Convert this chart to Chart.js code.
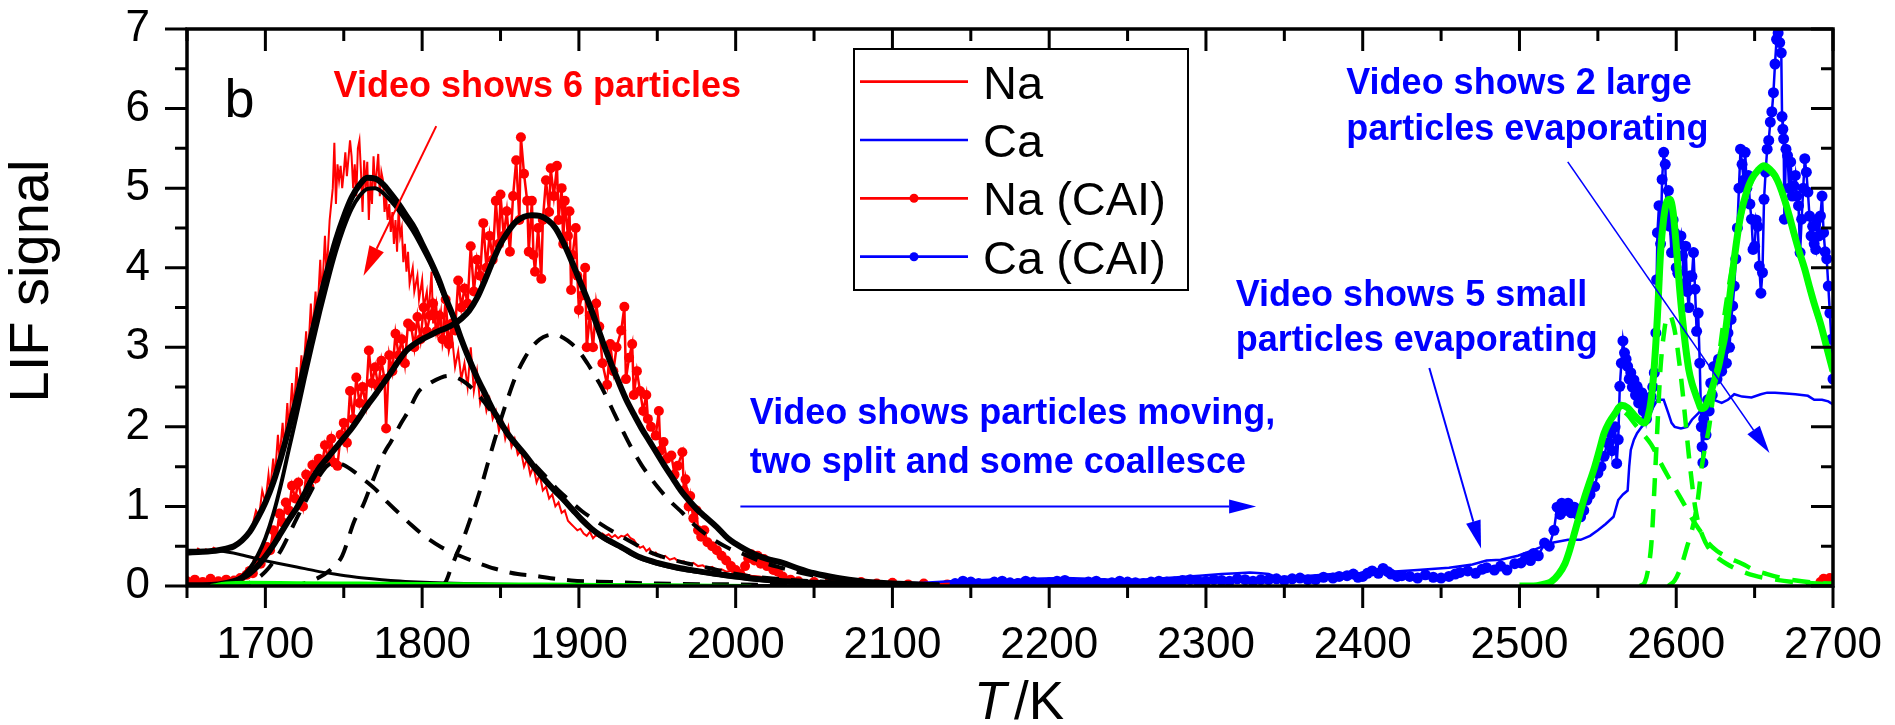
<!DOCTYPE html>
<html>
<head>
<meta charset="utf-8">
<title>LIF signal vs temperature</title>
<script src="https://cdn.jsdelivr.net/npm/chart.js@4.4.1/dist/chart.umd.min.js"></script>
<style>
  html, body { margin: 0; padding: 0; background: #ffffff; }
  #chart { display: block; }
</style>
</head>
<body>
<canvas id="chart" width="1895" height="725"></canvas>
<script>
// ---- axis ticks ----
const xTicks = [1700, 1800, 1900, 2000, 2100, 2200, 2300, 2400, 2500, 2600, 2700];
const yTicks = [0, 1, 2, 3, 4, 5, 6, 7];

// ---- measured signals [T / K, LIF] ----
const naSignal = [
  [1650,0.42],[1652,0.45],[1655,0.41],[1657,0.47],[1660,0.43],[1662,0.46],[1665,0.44],[1667,0.48],[1670,0.45],[1672,0.47],
  [1675,0.49],[1677,0.46],[1680,0.5],[1682,0.55],[1685,0.58],[1687,0.62],[1690,0.7],[1692,0.78],[1694,0.95],[1696,0.88],
  [1698,1.2],[1700,1.05],[1702,1.4],[1703,1.2],[1705,1.6],[1706,1.35],[1708,1.9],[1709,1.6],[1711,2.05],[1712,1.7],
  [1714,2.3],[1715,1.95],[1717,2.55],[1718,2.2],[1720,2.75],[1721,2.3],[1723,2.9],[1724,2.6],[1726,3.2],[1727,2.8],
  [1729,3.55],[1730,3.15],[1732,3.7],[1733,3.35],[1735,4.1],[1736,3.6],[1738,4.4],[1739,3.9],[1741,4.6],[1743,5.0],
  [1744,5.57],[1745,4.8],[1746,5.3],[1747,5.1],[1748,5.28],[1749,5.0],[1750,5.2],[1751,5.45],[1752,5.15],[1754,5.6],
  [1755,5.4],[1756,5.0],[1757,5.3],[1758,4.9],[1759,5.5],[1760,5.6],[1761,5.2],[1762,4.7],[1763,5.35],[1764,5.0],
  [1765,5.33],[1766,4.6],[1767,5.1],[1768,4.8],[1769,5.4],[1770,5.0],[1771,5.2],[1772,5.43],[1773,4.9],[1774,5.2],
  [1775,5.1],[1776,4.7],[1777,4.9],[1778,4.6],[1779,4.8],[1780,4.45],[1781,4.7],[1782,4.3],[1783,4.6],[1784,4.2],
  [1785,4.74],[1786,4.4],[1787,4.5],[1788,4.07],[1789,4.3],[1790,3.95],[1791,4.2],[1792,3.8],[1794,4.0],[1795,3.7],
  [1797,3.9],[1798,3.6],[1800,3.85],[1801,3.5],[1803,3.7],[1804,3.4],[1806,3.95],[1807,3.3],[1809,3.54],[1810,3.2],
  [1812,3.45],[1813,3.05],[1815,3.3],[1817,2.95],[1819,3.15],[1821,2.75],[1823,2.95],[1825,2.6],[1827,2.8],[1829,2.5],
  [1831,3.0],[1833,2.45],[1835,2.7],[1837,2.3],[1839,2.45],[1841,2.2],[1843,2.35],[1845,2.1],[1847,2.2],[1849,1.95],
  [1851,2.1],[1853,1.85],[1855,2.0],[1857,1.75],[1859,1.85],[1861,1.65],[1863,1.7],[1865,1.5],[1867,1.6],[1869,1.4],
  [1871,1.5],[1873,1.3],[1875,1.4],[1877,1.2],[1879,1.25],[1881,1.1],[1883,1.15],[1885,1.0],[1887,1.05],[1889,0.92],
  [1891,0.95],[1893,0.82],[1895,0.78],[1897,0.74],[1899,0.7],[1901,0.72],[1903,0.66],[1905,0.63],[1907,0.68],[1909,0.6],
  [1911,0.64],[1913,0.62],[1915,0.66],[1917,0.63],[1919,0.65],[1921,0.61],[1923,0.64],[1925,0.6],[1927,0.63],[1929,0.62],
  [1931,0.65],[1933,0.6],[1935,0.58],[1937,0.52],[1939,0.48],[1941,0.5],[1943,0.44],[1945,0.47],[1947,0.4],[1949,0.42],
  [1952,0.36],[1955,0.38],[1958,0.33],[1961,0.35],[1964,0.3],[1967,0.31],[1970,0.27],[1973,0.29],[1976,0.25],[1979,0.26],
  [1982,0.22],[1985,0.24],[1988,0.2],[1991,0.21],[1994,0.18],[1997,0.19],[2000,0.16],[2005,0.15],[2010,0.13],[2015,0.12],
  [2020,0.1],[2025,0.1],[2030,0.08],[2040,0.07],[2050,0.06],[2060,0.05],[2070,0.05],[2080,0.04],[2100,0.04],[2120,0.03],
  [2140,0.05],[2150,0.02],[2160,0.06],[2170,0.02],[2180,0.05],[2190,0.03],[2200,0.06],[2210,0.02],[2220,0.05],[2230,0.02],
  [2240,0.03],[2260,0.04],[2270,0.06],[2280,0.02],[2290,0.05],[2300,0.03]
];

const caSignal = [
  [2080,0.02],[2100,0.03],[2120,0.04],[2137,0.06],[2150,0.07],[2162,0.08],[2175,0.07],[2190,0.09],[2210,0.1],[2225,0.09],
  [2240,0.08],[2259,0.08],[2275,0.1],[2296,0.13],[2310,0.15],[2320,0.16],[2328,0.17],[2335,0.16],[2340,0.15],[2345,0.11],
  [2360,0.12],[2381,0.15],[2400,0.16],[2418,0.18],[2435,0.2],[2455,0.23],[2470,0.27],[2479,0.32],[2488,0.33],[2499,0.38],
  [2510,0.46],[2520,0.54],[2531,0.58],[2539,0.58],[2545,0.63],[2550,0.7],[2555,0.78],[2560,0.87],[2563,1.08],[2566,1.15],
  [2569,1.2],[2570,1.5],[2571,1.71],[2573,1.84],[2575,1.92],[2578,2.0],[2580,2.05],[2584,2.2],[2588,2.34],[2592,2.34],
  [2595,2.17],[2597,2.05],[2599,2.0],[2603,1.98],[2607,2.0],[2610,2.09],[2614,2.17],[2618,2.26],[2624,2.34],[2629,2.3],
  [2633,2.34],[2637,2.41],[2642,2.38],[2648,2.37],[2654,2.41],[2658,2.43],[2663,2.43],[2670,2.42],[2676,2.41],[2684,2.39],
  [2688,2.34],[2693,2.34],[2697,2.32],[2700,2.28]
];

const naCaiSignal = [
  [1650,0.06],[1655,0.08],[1660,0.05],[1665,0.09],[1670,0.06],[1675,0.08],[1680,0.07],[1684,0.1],[1688,0.14],[1690,0.19],
  [1692,0.16],[1695,0.32],[1697,0.28],[1699,0.4],[1701,0.49],[1703,0.45],[1705,0.7],[1707,0.62],[1709,0.91],[1711,0.8],
  [1713,1.05],[1715,0.95],[1717,1.26],[1719,1.1],[1721,1.3],[1724,1.0],[1726,1.4],[1728,1.25],[1730,1.52],[1732,1.35],
  [1734,1.6],[1736,1.5],[1738,1.77],[1740,1.6],[1742,1.85],[1744,1.55],[1746,1.51],[1748,1.9],[1750,2.05],[1752,1.8],
  [1754,2.45],[1756,2.1],[1758,2.62],[1760,2.3],[1762,2.5],[1764,2.28],[1766,2.96],[1768,2.55],[1770,2.75],[1772,2.5],
  [1774,2.83],[1776,2.6],[1777,1.98],[1779,2.9],[1781,2.7],[1783,3.17],[1785,2.9],[1787,3.1],[1789,2.8],[1791,3.3],
  [1793,3.26],[1795,3.0],[1797,3.38],[1799,3.1],[1801,3.5],[1803,3.2],[1805,3.4],[1807,3.55],[1809,3.2],[1811,3.4],
  [1813,3.1],[1815,3.6],[1817,3.04],[1819,3.3],[1821,3.21],[1823,3.84],[1825,3.5],[1827,3.74],[1829,3.55],[1831,4.27],
  [1833,3.7],[1835,4.1],[1837,3.9],[1839,4.56],[1841,4.0],[1843,4.4],[1845,4.1],[1847,4.84],[1849,4.3],[1850,4.92],
  [1852,4.4],[1854,4.71],[1856,4.2],[1858,4.9],[1860,5.35],[1862,4.6],[1863,5.64],[1865,5.18],[1867,4.84],[1868,4.2],
  [1870,4.84],[1871,4.16],[1872,3.95],[1874,4.5],[1876,3.86],[1877,4.6],[1879,5.1],[1881,4.7],[1882,5.25],[1884,4.9],
  [1886,5.28],[1887,4.6],[1889,5.0],[1890,4.3],[1891,4.84],[1893,4.4],[1894,4.71],[1895,3.72],[1896,4.16],[1898,4.5],
  [1899,3.9],[1900,3.47],[1902,3.65],[1904,4.0],[1905,3.0],[1907,3.4],[1909,3.0],[1911,3.55],[1913,3.26],[1915,2.8],
  [1918,2.53],[1920,3.04],[1922,2.7],[1924,3.0],[1927,3.21],[1929,3.51],[1930,2.6],[1932,2.87],[1934,3.04],[1935,2.4],
  [1937,2.7],[1939,2.45],[1941,2.2],[1943,2.4],[1944,2.1],[1946,2.0],[1949,1.89],[1951,2.2],[1952,1.7],[1954,1.81],
  [1956,1.6],[1959,1.64],[1961,1.4],[1963,1.51],[1966,1.68],[1967,1.2],[1968,1.34],[1970,1.0],[1971,1.13],[1973,0.85],
  [1975,0.95],[1976,0.7],[1978,0.62],[1980,0.7],[1982,0.55],[1985,0.5],[1988,0.45],[1991,0.38],[1994,0.32],[1997,0.25],
  [2000,0.2],[2003,0.15],[2006,0.25],[2008,0.35],[2010,0.4],[2012,0.32],[2014,0.38],[2016,0.28],[2018,0.34],[2020,0.25],
  [2022,0.3],[2024,0.2],[2027,0.18],[2030,0.12],[2035,0.08],[2040,0.06],[2050,0.05],[2060,0.06],[2070,0.04],[2080,0.05],
  [2090,0.03],[2100,0.04],[2110,0.02],[2120,0.03],[2135,0.02],[2150,0.03],[2165,0.02],[2180,0.03],[2200,0.02],
  [2400,null],
  [2692,0.05],[2694,0.09],[2696,0.07],[2698,0.1],[2700,0.08]
];

const caCaiSignal = [
  [2140,0.03],[2145,0.06],[2150,0.05],[2155,0.03],[2160,0.02],[2165,0.05],[2170,0.06],[2175,0.04],[2180,0.03],[2185,0.06],
  [2190,0.05],[2195,0.03],[2200,0.04],[2205,0.06],[2210,0.07],[2215,0.04],[2220,0.03],[2225,0.05],[2230,0.06],[2235,0.03],
  [2240,0.04],[2245,0.06],[2250,0.05],[2255,0.04],[2260,0.03],[2265,0.05],[2270,0.06],[2275,0.05],[2280,0.05],[2285,0.07],
  [2290,0.08],[2295,0.06],[2300,0.06],[2305,0.08],[2310,0.07],[2315,0.06],[2320,0.09],[2325,0.08],[2330,0.06],[2335,0.08],
  [2340,0.08],[2345,0.09],[2350,0.07],[2355,0.09],[2360,0.1],[2365,0.08],[2370,0.08],[2375,0.11],[2381,0.1],[2385,0.12],
  [2390,0.13],[2394,0.15],[2397,0.11],[2400,0.12],[2403,0.16],[2406,0.19],[2410,0.16],[2413,0.22],[2416,0.18],[2418,0.15],
  [2422,0.12],[2425,0.13],[2430,0.12],[2435,0.1],[2440,0.14],[2445,0.11],[2450,0.1],[2455,0.12],[2459,0.15],[2462,0.17],
  [2467,0.19],[2472,0.16],[2476,0.21],[2479,0.23],[2484,0.2],[2488,0.25],[2492,0.2],[2497,0.28],[2501,0.29],[2504,0.36],
  [2507,0.32],[2509,0.41],[2512,0.38],[2516,0.54],[2519,0.5],[2522,0.7],[2524,0.99],[2526,0.9],[2527,1.04],[2529,0.95],
  [2531,1.04],[2533,0.92],[2535,0.99],[2537,0.9],[2539,0.87],[2541,0.95],[2543,1.08],[2545,1.15],[2548,1.25],[2550,1.42],
  [2552,1.5],[2554,1.63],[2556,1.8],[2558,1.92],[2559,1.7],[2561,2.0],[2562,1.54],[2563,1.84],[2564,2.51],[2565,2.8],
  [2566,3.08],[2567,2.93],[2568,2.85],[2569,2.76],[2570,2.6],[2571,2.68],[2572,2.5],[2573,2.59],[2574,2.4],[2575,2.51],
  [2576,2.3],[2578,2.43],[2579,2.2],[2580,2.34],[2581,2.1],[2582,2.22],[2583,2.3],[2584,2.38],[2585,2.5],[2586,2.68],
  [2587,3.18],[2587.5,3.85],[2588,4.44],[2589,4.78],[2590,4.3],[2591,5.11],[2592,5.45],[2593,5.3],[2594,4.6],[2595,4.97],
  [2596,4.52],[2597,4.19],[2598,4.6],[2599,4.44],[2600,4.0],[2601,3.93],[2602,4.3],[2603,4.4],[2604,4.15],[2605,3.8],
  [2606,4.27],[2607,3.7],[2608,3.5],[2609,3.9],[2610,3.89],[2611,4.19],[2612,3.73],[2613,3.2],[2614,3.43],[2615,2.8],
  [2616,2.0],[2616.5,1.75],[2617,1.55],[2617.5,2.1],[2618,2.22],[2619,1.9],[2620,2.34],[2621,2.2],[2622,2.55],[2623,2.4],
  [2624,2.76],[2626,2.6],[2627,2.85],[2629,2.7],[2631,2.97],[2632,2.8],[2633,3.18],[2634,3.0],[2635,3.35],[2636,3.52],
  [2637,3.77],[2638,4.11],[2639,4.5],[2640,5.0],[2641,5.49],[2642,5.3],[2643,5.1],[2644,5.45],[2645,5.0],[2646,5.16],
  [2647,4.8],[2648,4.61],[2649,4.23],[2650,4.27],[2651,4.6],[2652,4.52],[2653,4.02],[2654,3.68],[2655,3.94],[2656,4.86],
  [2657,5.2],[2658,5.49],[2659,5.6],[2660,5.83],[2661,5.96],[2662,6.2],[2663,6.56],[2664,6.87],[2665,6.95],[2666,6.83],
  [2667,6.7],[2667.5,5.9],[2668,5.74],[2668.5,5.62],[2669,4.61],[2670,5.49],[2671,5.41],[2672,5.0],[2673,5.33],[2674,4.9],
  [2675,5.03],[2676,5.16],[2677,4.9],[2678,4.78],[2679,4.19],[2680,4.61],[2681,5.0],[2682,5.37],[2683,5.2],[2684,4.95],
  [2685,4.65],[2686,4.4],[2687,4.52],[2688,4.3],[2689,4.23],[2690,4.61],[2691,4.4],[2692,4.65],[2693,4.9],[2694,4.44],
  [2695,4.2],[2696,4.11],[2697,3.77],[2698,3.43],[2699,3.1],[2700,2.6]
];

// ---- Na fits (black) ----
const naFit = [
  [1650,0.42],[1660,0.43],[1670,0.45],[1675,0.47],[1680,0.5],[1685,0.57],[1690,0.68],[1695,0.85],[1700,1.05],[1705,1.3],
  [1710,1.62],[1715,1.98],[1720,2.36],[1725,2.78],[1730,3.2],[1735,3.62],[1740,4.0],[1745,4.35],[1750,4.64],[1755,4.88],
  [1760,5.04],[1765,5.13],[1770,5.12],[1775,5.05],[1780,4.93],[1785,4.8],[1790,4.65],[1795,4.5],[1800,4.3],[1805,4.1],
  [1810,3.88],[1815,3.62],[1820,3.38],[1825,3.1],[1830,2.85],[1835,2.62],[1840,2.42],[1845,2.22],[1850,2.06],[1855,1.9],
  [1860,1.78],[1866,1.64],[1872,1.48],[1878,1.34],[1884,1.21],[1890,1.09],[1896,0.96],[1902,0.83],[1908,0.72],[1915,0.62],
  [1921,0.55],[1927,0.49],[1933,0.42],[1939,0.36],[1950,0.29],[1963,0.23],[1975,0.19],[1988,0.15],[2000,0.12],[2012,0.09],
  [2030,0.06],[2050,0.04],[2080,0.02],[2100,0.01],[2130,0]
];
const naPeak = [
  [1665,0],[1675,0.03],[1680,0.06],[1685,0.12],[1690,0.22],[1695,0.38],[1700,0.6],[1705,0.9],[1710,1.28],[1715,1.72],
  [1720,2.15],[1725,2.6],[1730,3.03],[1735,3.45],[1740,3.84],[1745,4.2],[1750,4.5],[1755,4.74],[1760,4.9],[1765,4.99],
  [1770,5.0],[1775,4.94],[1780,4.84],[1785,4.72],[1790,4.58],[1795,4.43],[1800,4.25],[1805,4.06],[1810,3.84],[1815,3.6],
  [1820,3.36],[1825,3.09],[1830,2.84],[1835,2.61],[1840,2.41],[1845,2.21],[1850,2.05],[1855,1.89],[1860,1.77],[1866,1.63],
  [1872,1.47],[1878,1.33],[1884,1.2],[1890,1.08],[1896,0.95],[1902,0.82],[1908,0.71],[1915,0.61],[1921,0.54],[1927,0.48],
  [1933,0.41],[1939,0.35],[1950,0.28],[1963,0.22],[1975,0.18],[1988,0.14],[2000,0.11],[2012,0.08],[2030,0.05],[2050,0.03],
  [2080,0.01],[2100,0]
];
const naBaseline = [
  [1650,0.45],[1660,0.45],[1671,0.44],[1683,0.4],[1695,0.34],[1707,0.29],[1720,0.24],[1732,0.19],[1744,0.15],[1756,0.115],
  [1768,0.09],[1780,0.07],[1793,0.055],[1805,0.045],[1820,0.035],[1841,0.025],[1870,0.018],[1900,0.012],[1950,0.008],
  [2000,0.005],[2050,0]
];

// ---- Na (CAI) fit and its three components (black) ----
const naCaiFit = [
  [1650,0.01],[1660,0.01],[1670,0.02],[1680,0.06],[1685,0.1],[1690,0.16],[1695,0.25],[1700,0.37],[1705,0.51],[1710,0.67],
  [1715,0.83],[1720,0.98],[1725,1.16],[1730,1.35],[1735,1.5],[1740,1.62],[1745,1.74],[1750,1.86],[1755,1.98],[1760,2.12],
  [1765,2.27],[1770,2.4],[1775,2.54],[1780,2.68],[1785,2.83],[1790,2.96],[1795,3.04],[1800,3.1],[1805,3.15],[1810,3.2],
  [1815,3.24],[1820,3.29],[1825,3.36],[1830,3.46],[1835,3.62],[1840,3.84],[1845,4.08],[1850,4.3],[1855,4.46],[1860,4.58],
  [1865,4.64],[1870,4.66],[1875,4.65],[1880,4.6],[1885,4.5],[1890,4.32],[1895,4.1],[1900,3.86],[1905,3.62],[1910,3.36],
  [1915,3.08],[1920,2.82],[1925,2.58],[1930,2.35],[1935,2.16],[1940,1.98],[1945,1.82],[1950,1.66],[1955,1.5],[1960,1.35],
  [1965,1.2],[1970,1.08],[1975,0.97],[1980,0.88],[1988,0.74],[1995,0.6],[2000,0.53],[2006,0.46],[2012,0.4],[2020,0.34],
  [2030,0.29],[2040,0.22],[2050,0.16],[2065,0.1],[2080,0.06],[2100,0.03],[2130,0.01]
];
const naCaiPeak1 = [
  [1680,0],[1690,0.04],[1700,0.18],[1710,0.45],[1720,0.85],[1728,1.15],[1735,1.4],[1740,1.52],[1745,1.55],[1750,1.52],
  [1757,1.43],[1764,1.32],[1771,1.2],[1778,1.05],[1785,0.92],[1793,0.77],[1802,0.62],[1812,0.49],[1824,0.38],[1837,0.28],
  [1846,0.22],[1861,0.15],[1871,0.13],[1885,0.09],[1895,0.07],[1920,0.05],[1950,0.03],[2000,0.02],[2050,0.01],[2100,0]
];
const naCaiPeak2 = [
  [1715,0],[1722,0.02],[1732,0.085],[1743,0.23],[1749,0.38],[1757,0.83],[1762,1.0],[1768,1.3],[1776,1.68],[1780,1.81],
  [1787,2.06],[1791,2.19],[1798,2.45],[1805,2.55],[1812,2.62],[1817,2.64],[1822,2.62],[1828,2.55],[1835,2.42],[1842,2.25],
  [1850,2.03],[1858,1.82],[1865,1.65],[1872,1.52],[1880,1.35],[1887,1.2],[1895,1.06],[1902,0.94],[1910,0.83],[1922,0.68],
  [1932,0.57],[1946,0.42],[1958,0.34],[1970,0.28],[1982,0.23],[1995,0.17],[2007,0.13],[2020,0.1],[2040,0.07],[2060,0.05],
  [2080,0.03],[2100,0.02]
];
const naCaiPeak3 = [
  [1812,0],[1815,0.05],[1818,0.2],[1822,0.4],[1826,0.58],[1830,0.8],[1834,1.02],[1838,1.27],[1842,1.55],[1846,1.82],
  [1850,2.08],[1855,2.38],[1860,2.65],[1865,2.85],[1870,3.0],[1875,3.1],[1880,3.15],[1885,3.16],[1890,3.12],[1895,3.05],
  [1900,2.95],[1906,2.78],[1913,2.55],[1918,2.36],[1923,2.15],[1929,1.91],[1934,1.72],[1940,1.52],[1945,1.38],[1950,1.25],
  [1957,1.09],[1966,0.92],[1973,0.78],[1983,0.62],[1995,0.48],[2005,0.4],[2017,0.3],[2029,0.23],[2045,0.15],[2060,0.1],
  [2080,0.05],[2100,0.03],[2120,0.01]
];

// ---- Ca (CAI) fit and its three components (green) ----
const caCaiFit = [
  [2500,0],[2509,0],[2515,0.02],[2520,0.05],[2525,0.15],[2529,0.28],[2532,0.45],[2535,0.66],[2538,0.87],[2541,1.08],
  [2545,1.32],[2548,1.5],[2551,1.71],[2554,1.92],[2557,2.05],[2561,2.17],[2565,2.27],[2569,2.24],[2573,2.15],[2576,2.09],
  [2578,2.06],[2580,2.05],[2582,2.13],[2584,2.34],[2586,2.76],[2588,3.39],[2590,4.19],[2592,4.62],[2594,4.83],[2596,4.86],
  [2598,4.7],[2600,4.28],[2602,3.77],[2604,3.35],[2606,3.0],[2608,2.72],[2610,2.55],[2612,2.43],[2614,2.32],[2616,2.23],
  [2618,2.24],[2620,2.32],[2622,2.43],[2625,2.62],[2627,2.76],[2629,2.95],[2631,3.14],[2633,3.45],[2635,3.78],[2637,4.11],
  [2641,4.65],[2645,4.96],[2648,5.11],[2652,5.22],[2656,5.28],[2660,5.23],[2663,5.16],[2666,5.03],[2669,4.86],[2672,4.66],
  [2675,4.44],[2678,4.23],[2682,3.98],[2685,3.76],[2688,3.55],[2692,3.3],[2696,3.0],[2700,2.7]
];
const caCaiPeak1 = [
  [2505,0],[2515,0.02],[2520,0.05],[2525,0.15],[2529,0.28],[2532,0.45],[2535,0.66],[2538,0.87],[2541,1.08],[2545,1.32],
  [2548,1.5],[2551,1.71],[2554,1.92],[2557,2.05],[2561,2.15],[2565,2.2],[2569,2.15],[2573,2.05],[2578,1.93],[2584,1.78],
  [2590,1.55],[2595,1.37],[2600,1.2],[2605,1.03],[2610,0.85],[2615,0.7],[2620,0.55],[2626,0.44],[2633,0.36],[2642,0.28],
  [2650,0.2],[2658,0.15],[2670,0.09],[2680,0.06],[2690,0.04],[2700,0.03]
];
const caCaiPeak2 = [
  [2577,0],[2580,0.05],[2582,0.2],[2584,0.5],[2585,0.8],[2586,1.2],[2587,1.6],[2588,2.0],[2589,2.4],[2590,2.75],
  [2592,3.15],[2594,3.38],[2596,3.4],[2598,3.3],[2600,3.1],[2602,2.8],[2604,2.45],[2606,2.05],[2608,1.65],[2610,1.3],
  [2612,1.0],[2614,0.8],[2617,0.62],[2620,0.5],[2625,0.38],[2632,0.28],[2640,0.2],[2650,0.13],[2660,0.09],[2675,0.05],
  [2690,0.03],[2700,0.02]
];
const caCaiPeak3 = [
  [2595,0],[2599,0.07],[2603,0.24],[2607,0.5],[2610,0.7],[2612,0.87],[2614,1.12],[2616,1.46],[2618,1.7],[2621,2.0],
  [2624,2.45],[2627,2.85],[2630,3.3],[2633,3.7],[2636,4.05],[2640,4.5],[2644,4.85],[2648,5.08],[2652,5.2],[2656,5.25],
  [2660,5.2],[2663,5.13],[2666,5.0],[2669,4.83],[2672,4.63],[2675,4.41],[2678,4.2],[2682,3.95],[2685,3.73],[2688,3.52],
  [2692,3.27],[2696,2.97],[2700,2.67]
];
const caFitLowRange = [
  [1665,0],[1675,0.03],[1690,0.04],[1720,0.035],[1760,0.03],[1800,0.025],[1850,0.02],[1900,0.015],[1950,0.01],[2010,0]
];

// ---- styling ----
const FONT = '"Liberation Sans", Arial, Helvetica, sans-serif';
const RED = '#ff0000', BLUE = '#0000ff', GREEN = '#00ff00', BLACK = '#000000';

const toPoints = arr => arr.map(p => ({ x: p[0], y: p[1] }));

function lineSet(label, arr, color, width, extra) {
  return Object.assign({
    label: label,
    data: toPoints(arr),
    showLine: true,
    borderColor: color,
    backgroundColor: color,
    borderWidth: width,
    pointRadius: 0,
    pointHoverRadius: 0,
    tension: 0,
    spanGaps: false,
    fill: false
  }, extra || {});
}

const smooth = { tension: 0.4, cubicInterpolationMode: 'monotone' };
const blackDash = [17, 12];
const greenDash = [18, 13];

const datasets = [
  lineSet('Na', naSignal, RED, 2, { order: 20 }),
  lineSet('Ca', caSignal, BLUE, 2.5, { order: 18 }),
  lineSet('Na (CAI)', naCaiSignal, RED, 2.5, { order: 19, pointRadius: 5, pointBorderWidth: 0, pointBackgroundColor: RED }),
  lineSet('Ca (CAI)', caCaiSignal, BLUE, 2.5, { order: 17, pointRadius: 5.5, pointBorderWidth: 0, pointBackgroundColor: BLUE }),
  lineSet('Na (CAI) peak 1', naCaiPeak1, BLACK, 4, Object.assign({ order: 8, borderDash: blackDash }, smooth)),
  lineSet('Na (CAI) peak 2', naCaiPeak2, BLACK, 4, Object.assign({ order: 8, borderDash: blackDash }, smooth)),
  lineSet('Na (CAI) peak 3', naCaiPeak3, BLACK, 4, Object.assign({ order: 8, borderDash: blackDash }, smooth)),
  lineSet('Na baseline', naBaseline, BLACK, 3, Object.assign({ order: 7 }, smooth)),
  lineSet('Na peak', naPeak, BLACK, 4, Object.assign({ order: 6 }, smooth)),
  lineSet('Na fit', naFit, BLACK, 6, Object.assign({ order: 5 }, smooth)),
  lineSet('Na (CAI) fit', naCaiFit, BLACK, 6, Object.assign({ order: 5 }, smooth)),
  lineSet('Ca (CAI) peak 1', caCaiPeak1, GREEN, 4.5, Object.assign({ order: 3, borderDash: greenDash }, smooth)),
  lineSet('Ca (CAI) peak 2', caCaiPeak2, GREEN, 4.5, Object.assign({ order: 3, borderDash: greenDash }, smooth)),
  lineSet('Ca (CAI) peak 3', caCaiPeak3, GREEN, 4.5, Object.assign({ order: 3, borderDash: greenDash }, smooth)),
  lineSet('Ca (CAI) fit', caCaiFit, GREEN, 7, Object.assign({ order: 1 }, smooth)),
  lineSet('Ca (CAI) fit, low range', caFitLowRange, GREEN, 4, Object.assign({ order: 2 }, smooth))
];

// ---- frame with ticks on all four sides ----
const framePlugin = {
  id: 'frame',
  afterDatasetsDraw(chart) {
    const { ctx, chartArea: a, scales } = chart;
    const xs = scales.x, ys = scales.y;
    const major = 22, minor = 12;
    ctx.save();
    ctx.strokeStyle = BLACK;
    ctx.lineWidth = 3;
    ctx.lineCap = 'butt';
    ctx.beginPath();
    xTicks.forEach(v => {
      const px = xs.getPixelForValue(v);
      ctx.moveTo(px, a.bottom); ctx.lineTo(px, a.bottom + major);
      ctx.moveTo(px, a.top); ctx.lineTo(px, a.top + major);
      const pm = xs.getPixelForValue(v - 50);
      ctx.moveTo(pm, a.bottom); ctx.lineTo(pm, a.bottom + minor);
      ctx.moveTo(pm, a.top); ctx.lineTo(pm, a.top + minor);
    });
    yTicks.forEach((v, i) => {
      const py = ys.getPixelForValue(v);
      ctx.moveTo(a.left - major, py); ctx.lineTo(a.left, py);
      ctx.moveTo(a.right - major, py); ctx.lineTo(a.right, py);
      if (i > 0) {
        const pm = ys.getPixelForValue(v - 0.5);
        ctx.moveTo(a.left - minor, pm); ctx.lineTo(a.left, pm);
        ctx.moveTo(a.right - minor, pm); ctx.lineTo(a.right, pm);
      }
    });
    ctx.stroke();
    ctx.lineWidth = 3.5;
    ctx.strokeRect(a.left, a.top, a.right - a.left, a.bottom - a.top);
    ctx.restore();
  }
};

function drawArrow(ctx, x0, y0, x1, y1, color, lw, headLen, headHalf) {
  const ang = Math.atan2(y1 - y0, x1 - x0);
  const bx = x1 - headLen * Math.cos(ang), by = y1 - headLen * Math.sin(ang);
  ctx.strokeStyle = color;
  ctx.fillStyle = color;
  ctx.lineWidth = lw;
  ctx.beginPath();
  ctx.moveTo(x0, y0);
  ctx.lineTo(bx, by);
  ctx.stroke();
  ctx.beginPath();
  ctx.moveTo(x1, y1);
  ctx.lineTo(bx + headHalf * Math.sin(ang), by - headHalf * Math.cos(ang));
  ctx.lineTo(bx - headHalf * Math.sin(ang), by + headHalf * Math.cos(ang));
  ctx.closePath();
  ctx.fill();
}

// ---- notes, arrows, legend and axis titles ----
const notesPlugin = {
  id: 'notes',
  afterDraw(chart) {
    const { ctx, scales } = chart;
    const X = v => scales.x.getPixelForValue(v);
    const Y = v => scales.y.getPixelForValue(v);
    ctx.save();
    ctx.textBaseline = 'alphabetic';
    ctx.textAlign = 'left';

    // panel letter
    ctx.fillStyle = BLACK;
    ctx.font = '54px ' + FONT;
    ctx.fillText('b', X(1674), Y(5.89));

    // notes
    ctx.font = 'bold 36px ' + FONT;
    ctx.fillStyle = RED;
    ctx.fillText('Video shows 6 particles', X(1743.5), Y(6.15));
    ctx.fillStyle = BLUE;
    ctx.fillText('Video shows 2 large', X(2389.5), Y(6.18));
    ctx.fillText('particles evaporating', X(2389.5), Y(5.6));
    ctx.fillText('Video shows 5 small', X(2319), Y(3.52));
    ctx.fillText('particles evaporating', X(2319), Y(2.95));
    ctx.fillText('Video shows particles moving,', X(2009), Y(2.03));
    ctx.fillText('two split and some coallesce', X(2009), Y(1.42));

    // arrows
    drawArrow(ctx, X(1809), Y(5.78), X(1762.6), Y(3.9), RED, 2, 30, 8);
    drawArrow(ctx, X(2003), Y(1.0), X(2332), Y(1.0), BLUE, 2, 27, 7);
    drawArrow(ctx, X(2442.5), Y(2.74), X(2475.5), Y(0.47), BLUE, 2, 28, 7.5);
    drawArrow(ctx, X(2530.8), Y(5.33), X(2659.5), Y(1.67), BLUE, 1.6, 28, 7.5);

    // legend
    const box = { x: 854, y: 49, w: 334, h: 241 };
    ctx.fillStyle = '#ffffff';
    ctx.fillRect(box.x, box.y, box.w, box.h);
    ctx.strokeStyle = BLACK;
    ctx.lineWidth = 2;
    ctx.strokeRect(box.x, box.y, box.w, box.h);
    const rowY = [81.7, 140, 198.3, 256.7];
    ctx.font = '47px ' + FONT;
    rowY.forEach((yy, i) => {
      const ds = chart.data.datasets[i];
      ctx.strokeStyle = ds.borderColor;
      ctx.lineWidth = 2.7;
      ctx.beginPath();
      ctx.moveTo(860, yy);
      ctx.lineTo(968, yy);
      ctx.stroke();
      if (ds.pointRadius > 0) {
        ctx.fillStyle = ds.borderColor;
        ctx.beginPath();
        ctx.arc(914, yy, 4.5, 0, Math.PI * 2);
        ctx.fill();
      }
      ctx.fillStyle = BLACK;
      ctx.fillText(ds.label, 983, yy + 16.8);
    });

    // axis titles
    ctx.fillStyle = BLACK;
    ctx.save();
    ctx.translate(48, 281);
    ctx.rotate(-Math.PI / 2);
    ctx.textAlign = 'center';
    ctx.textBaseline = 'alphabetic';
    ctx.font = '56px ' + FONT;
    ctx.fillText('LIF signal', 0, 0);
    ctx.restore();

    ctx.font = 'italic 53px ' + FONT;
    ctx.fillText('T', 974, 719);
    ctx.font = '53px ' + FONT;
    ctx.fillText('/K', 1014, 719);

    ctx.restore();
  }
};

const chart = new Chart(document.getElementById('chart'), {
  type: 'scatter',
  data: { datasets: datasets },
  options: {
    responsive: false,
    animation: false,
    devicePixelRatio: 1,
    events: [],
    layout: { padding: { top: 29, right: 62, left: 0, bottom: 0 } },
    plugins: {
      legend: { display: false },
      tooltip: { enabled: false },
      title: { display: false }
    },
    scales: {
      x: {
        type: 'linear',
        position: 'bottom',
        min: 1650,
        max: 2700,
        grid: { display: false, drawTicks: false, tickLength: 0 },
        border: { display: false },
        afterBuildTicks: s => { s.ticks = xTicks.map(v => ({ value: v })); },
        afterFit: s => { s.height = 139; s.paddingLeft = 0; s.paddingRight = 0; },
        ticks: {
          autoSkip: false,
          maxRotation: 0,
          minRotation: 0,
          padding: 33,
          color: BLACK,
          font: { family: FONT, size: 44 },
          callback: v => String(v)
        }
      },
      y: {
        type: 'linear',
        position: 'left',
        min: 0,
        max: 7,
        grid: { display: false, drawTicks: false, tickLength: 0 },
        border: { display: false },
        afterBuildTicks: s => { s.ticks = yTicks.map(v => ({ value: v })); },
        afterFit: s => { s.width = 187; s.paddingTop = 0; s.paddingBottom = 0; },
        ticks: {
          padding: 37,
          color: BLACK,
          font: { family: FONT, size: 44 },
          callback: v => String(v)
        }
      }
    }
  },
  plugins: [framePlugin, notesPlugin]
});
</script>
</body>
</html>
